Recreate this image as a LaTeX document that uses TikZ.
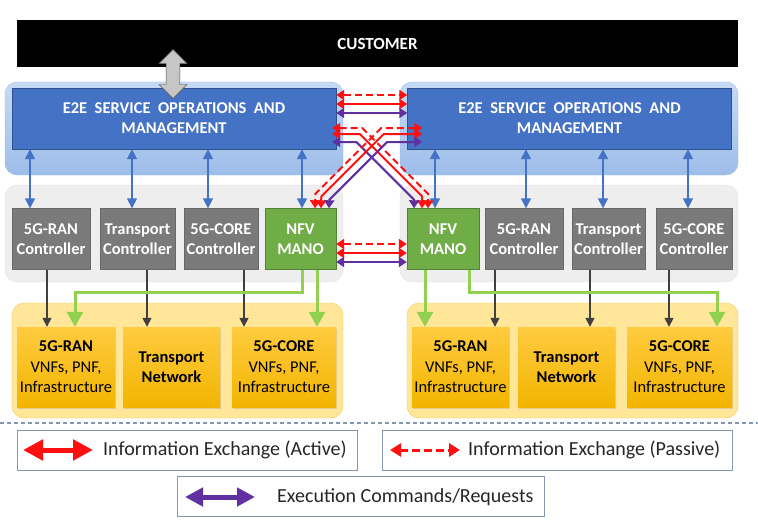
\documentclass[tikz,border=0pt]{standalone}
\usepackage{fontspec}
\setmainfont{Carlito}
\usetikzlibrary{arrows.meta,calc,shapes.arrows,shadows}

\definecolor{e2eblue}{HTML}{4472C4}
\definecolor{e2eline}{HTML}{2F528F}
\definecolor{soppale}{HTML}{C6DAF3}
\definecolor{sopdeep}{HTML}{9DBDEA}
\definecolor{ctlgrey}{HTML}{7A7A7A}
\definecolor{panelgrey}{HTML}{EEEEEE}
\definecolor{manogreen}{HTML}{70AD47}
\definecolor{arrgreen}{HTML}{92D050}
\definecolor{nfpale}{HTML}{FFE699}
\definecolor{nfline}{HTML}{F2CC55}
\definecolor{nftop}{HTML}{FFCB40}
\definecolor{nfbottom}{HTML}{F2B500}
\definecolor{actred}{HTML}{FF1010}
\definecolor{cmdpurple}{HTML}{6030A0}
\definecolor{lgline}{HTML}{8497B0}
\definecolor{dkarrow}{HTML}{404040}

\begin{document}
\begin{tikzpicture}[x=1pt, y=-1pt,
    xact/.style={draw=actred, line width=2pt, {Triangle[width=10pt,length=8pt]}-{Triangle[width=10pt,length=8pt]}},
    xpas/.style={xact, dash pattern=on 7pt off 4pt},
    xcmd/.style={xact, draw=cmdpurple},
    ctlarr/.style={draw=e2eblue, line width=1.6pt, {Triangle[width=10pt,length=10pt]}-{Triangle[width=10pt,length=10pt]}},
    dkarr/.style={draw=dkarrow, line width=1.5pt, -{Triangle[width=9pt,length=9pt]}},
    grnarr/.style={draw=arrgreen, line width=3pt, -{Triangle[width=16pt,length=15pt]}}]
    \useasboundingbox (0,0) rectangle (758,527);

    % panels
    \begin{scope}[every node/.style={rounded corners=12pt, inner sep=0pt}]
        \node[draw=sopdeep, top color=soppale, bottom color=sopdeep, minimum width=338pt, minimum height=93pt] (lsop) at (174,128.5) {};
        \node[draw=sopdeep, top color=soppale, bottom color=sopdeep, minimum width=338pt, minimum height=93pt] (rsop) at (569,128.5) {};
        \node[draw=gray!22, fill=panelgrey, minimum width=338pt, minimum height=97pt] (lctl) at (174,233.5) {};
        \node[draw=gray!22, fill=panelgrey, minimum width=338pt, minimum height=97pt] (rctl) at (569,233.5) {};
        \node[draw=nfline, fill=nfpale, minimum width=331pt, minimum height=115pt] (lnf) at (177.5,360.5) {};
        \node[draw=nfline, fill=nfpale, minimum width=331pt, minimum height=115pt] (rnf) at (572.5,360.5) {};
    \end{scope}

    \node[fill=black, minimum width=721pt, minimum height=47pt, text=white, font=\bfseries\fontsize{17}{19}\selectfont] (cust) at (377.5,43.5) {CUSTOMER};

    \begin{scope}[every node/.style={fill=e2eblue, draw=e2eline, minimum width=324pt, minimum height=61pt, text=white, align=center, font=\bfseries\fontsize{16.5}{20}\selectfont}]
        \node (le2e) at (174,118.5) {E2E\ \ SERVICE\ \ OPERATIONS\ \ AND\\MANAGEMENT};
        \node (re2e) at (569.5,118.5) {E2E\ \ SERVICE\ \ OPERATIONS\ \ AND\\MANAGEMENT};
    \end{scope}

    % controllers
    \begin{scope}[every node/.style={fill=ctlgrey, draw=ctlgrey!85!black, minimum height=61pt, inner sep=1pt, text=white, align=center, font=\bfseries\fontsize{16.5}{19.5}\selectfont}]
        \node[minimum width=78pt] (lran) at (51,239) {5G-RAN\\Controller};
        \node[minimum width=75pt] (ltr) at (137.5,239) {Transport\\Controller};
        \node[minimum width=74pt] (lcore) at (221,239) {5G-CORE\\Controller};
        \node[minimum width=71pt, fill=manogreen, draw=manogreen!75!black] (lmano) at (300.5,239) {NFV\\MANO};
        \node[minimum width=72pt, fill=manogreen, draw=manogreen!75!black] (rmano) at (443,239) {NFV\\MANO};
        \node[minimum width=78pt] (rran) at (524,239) {5G-RAN\\Controller};
        \node[minimum width=73pt] (rtr) at (608.5,239) {Transport\\Controller};
        \node[minimum width=76pt] (rcore) at (694,239) {5G-CORE\\Controller};
    \end{scope}

    % network functions
    \begin{scope}[every node/.style={top color=nftop, bottom color=nfbottom, minimum height=80pt, inner sep=1pt, align=center, font=\fontsize{16.5}{20.5}\selectfont, drop shadow={shadow xshift=1pt, shadow yshift=-1.5pt, opacity=0.25}}]
        \node[minimum width=98pt] (lnran) at (66,367) {\textbf{5G-RAN}\\VNFs, PNF,\\Infrastructure};
        \node[minimum width=97pt] (lntr) at (171.5,367) {\textbf{Transport}\\\textbf{Network}};
        \node[minimum width=104pt] (lncore) at (284,367) {\textbf{5G-CORE}\\VNFs, PNF,\\Infrastructure};
        \node[minimum width=97pt] (rnran) at (460.5,367) {\textbf{5G-RAN}\\VNFs, PNF,\\Infrastructure};
        \node[minimum width=97pt] (rntr) at (566.5,367) {\textbf{Transport}\\\textbf{Network}};
        \node[minimum width=105pt] (rncore) at (679.5,367) {\textbf{5G-CORE}\\VNFs, PNF,\\Infrastructure};
    \end{scope}

    \node[double arrow, rotate=90, draw=gray!65!black, fill=gray!45, minimum height=49pt, minimum width=28pt, double arrow head extend=7pt, inner sep=6.5pt] (cio) at (173,74) {};

    \foreach \c/\e/\dx in {lran/le2e/-21, ltr/le2e/-5.5, lcore/le2e/-13, lmano/le2e/1.5, rmano/re2e/-8, rran/re2e/2, rtr/re2e/-5.5, rcore/re2e/-6}
        \draw[ctlarr] ($(\e.south -| \c.north)+(\dx,0)$) -- ($(\c.north)+(\dx,0)$);

    \foreach \c/\n/\dx in {lran/lnran/-4, ltr/lntr/9.5, lcore/lncore/23, rran/rnran/-29, rtr/rntr/-18.5, rcore/rncore/-25}
        \draw[dkarr] ($(\c.south)+(\dx,0)$) -- ($(\n.north -| \c.south)+(\dx,0)$);

    \draw[grnarr] ($(lmano.south)+(1.5,0)$) -- ++(0,22.5) -| ($(lnran.north)+(9,0)$);
    \draw[grnarr] ($(lmano.south)+(16.5,0)$) -- ($(lncore.north -| lmano.south)+(16.5,0)$);
    \draw[grnarr] ($(rmano.south)+(-18,0)$) -- ($(rnran.north -| rmano.south)+(-18,0)$);
    \draw[grnarr] ($(rmano.south)+(26,0)$) -- ++(0,22.5) -| ($(rncore.north)+(37.5,0)$);

    % exchanges between the two domains
    \foreach \dy/\s in {-23.5/xpas, -14.5/xact, -5.5/xcmd}
        \draw[\s] ($(le2e.east)+(0,\dy)$) -- ($(re2e.west)+(0,\dy)$);
    \foreach \dy/\s in {5/xpas, 14/xact, 23/xcmd}
        \draw[\s] ($(lmano.east)+(0,\dy)$) -- ($(rmano.west)+(0,\dy)$);

    \draw[xpas] ($(le2e.east)+(-4,9.5)$) -- ++(30,0) -- ++(66,66) -- ($(rmano.north)+(-15,0)$);
    \draw[xact] ($(le2e.east)+(-4,15.5)$) -- ++(27.5,0) -- ++(62.5,62.5) -- ($(rmano.north)+(-21,0)$);
    \draw[xcmd] ($(le2e.east)+(-4,23.5)$) -- ++(24.2,0) -- ++(57.8,57.8) -- ($(rmano.north)+(-29,0)$);
    \draw[xpas] ($(re2e.west)+(15,9.5)$) -- ++(-41,0) -- ++(-66,66) -- ($(lmano.north)+(14.5,0)$);
    \draw[xact] ($(re2e.west)+(15,15.5)$) -- ++(-38.5,0) -- ++(-62.5,62.5) -- ($(lmano.north)+(20.5,0)$);
    \draw[xcmd] ($(re2e.west)+(15,23.5)$) -- ++(-35.2,0) -- ++(-57.8,57.8) -- ($(lmano.north)+(28.5,0)$);

    % legend
    \draw[lgline, line width=1.2pt, dash pattern=on 4pt off 3pt] (0,423) -- (758,423);
    \begin{scope}[every node/.style={draw=lgline, line width=1pt, minimum height=40pt}]
        \node[minimum width=340pt] (lgact) at (187,450) {};
        \node[minimum width=350pt] (lgpas) at (557,450) {};
        \node[minimum width=367pt] (lgcmd) at (360.5,496) {};
    \end{scope}
    \begin{scope}[every node/.style={anchor=west, inner sep=0pt, text=black!85, font=\fontsize{20}{24}\selectfont}]
        \node (tact) at (103,450) {Information Exchange (Active)};
        \node (tpas) at (468,450) {Information Exchange (Passive)};
        \node (tcmd) at (277,497) {Execution Commands/Requests};
    \end{scope}
    \coordinate (a1) at (23,450);  \coordinate (a2) at (93,450);
    \coordinate (p1) at (390,450); \coordinate (p2) at (460,450);
    \coordinate (c1) at (185,497); \coordinate (c2) at (255,497);
    \draw[draw=actred, line width=5pt, {Triangle[width=20pt,length=20pt]}-{Triangle[width=20pt,length=20pt]}] (a1) -- (a2);
    \draw[draw=actred, line width=3pt, dash pattern=on 8pt off 4pt, {Triangle[width=13pt,length=11pt]}-{Triangle[width=13pt,length=11pt]}] (p1) -- (p2);
    \draw[draw=cmdpurple, line width=5pt, {Triangle[width=18pt,length=18pt]}-{Triangle[width=18pt,length=18pt]}] (c1) -- (c2);
\end{tikzpicture}
\end{document}
